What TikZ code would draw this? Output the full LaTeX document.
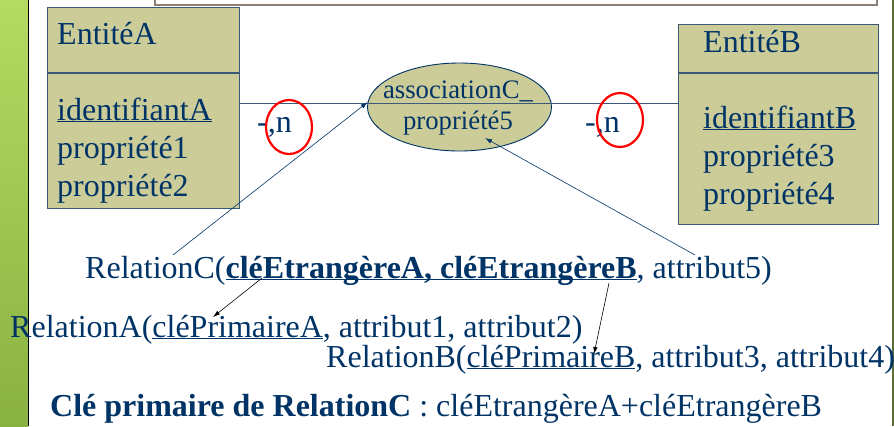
\documentclass[tikz,border=0pt]{standalone}
\usepackage{fontspec}
\setmainfont{Liberation Serif}
\usetikzlibrary{calc}
\usetikzlibrary{positioning}
\usetikzlibrary{shapes,arrows.meta}

\definecolor{inkBlue}{RGB}{0,51,102}
\definecolor{khaki}{RGB}{204,204,153}
\definecolor{frameBlue}{RGB}{59,89,120}
\definecolor{barTop}{RGB}{180,218,98}
\definecolor{barBottom}{RGB}{138,178,66}
\definecolor{frameGrey}{RGB}{140,128,118}
\definecolor{edgeOlive}{RGB}{92,110,60}

\newcommand{\keyUL}[1]{\underline{\smash{#1}}}

\begin{document}
\begin{tikzpicture}[x=1pt, y=-1pt, >={Latex[length=7pt,width=4.5pt]}]
            % Set styles
            \tikzset{
                entityNode/.style={
                        draw=frameBlue,
                        fill=khaki,
                        line width=1.2pt,
                        rectangle,
                        inner sep=0pt
                    }
            }
            \tikzset{
                assocNode/.style={
                        draw=inkBlue,
                        fill=khaki,
                        ellipse,
                        line width=0.9pt,
                        minimum width=184pt,
                        minimum height=88pt,
                        inner sep=0pt
                    }
            }
            \tikzset{
                textNode/.style={
                        text=inkBlue,
                        inner sep=0pt,
                        anchor=base west,
                        font=\fontsize{32}{38}\selectfont
                    }
            }
            \tikzset{
                cardRing/.style={
                        draw=red,
                        line width=2.2pt,
                        ellipse,
                        minimum width=46pt,
                        minimum height=54pt,
                        inner sep=0pt
                    }
            }
            \tikzset{
                link/.style={
                        draw=frameBlue,
                        line width=1pt
                    }
            }
            \tikzset{
                fkArrow/.style={
                        ->,
                        draw=inkBlue,
                        line width=0.6pt
                    }
            }
            \tikzset{
                keyArrow/.style={
                        ->,
                        draw=black,
                        line width=0.6pt
                    }
            }
            % Slide frame
            \useasboundingbox[fill=white] (0,0) rectangle (894,426);
            \shade[top color=barTop, bottom color=barBottom] (0,0) rectangle (28,426);
            \draw[black, line width=1.5pt] (28.5,0) -- (28.5,426);
            \draw[edgeOlive, line width=2pt] (893,0) -- (893,426);
            \draw[frameGrey, line width=1.5pt] (155,-10) rectangle (877,5);
            % Placing entities
            \node[entityNode, anchor=north west, minimum width=192pt, minimum height=65pt](titleA) at (47,7){};
            \node[entityNode, anchor=north, minimum width=192pt, minimum height=135pt](bodyA) at (titleA.south){};
            \node[entityNode, anchor=north west, minimum width=200pt, minimum height=48pt](titleB) at (678,24){};
            \node[entityNode, anchor=north, minimum width=200pt, minimum height=151pt](bodyB) at (titleB.south){};
            \node[textNode](nameA) at (57,44){EntitéA};
            \node[textNode](idA) at (57,120){\keyUL{identifiantA}};
            \node[textNode](propA1) at (57,158){propriété1};
            \node[textNode](propA2) at (57,196){propriété2};
            \node[textNode](nameB) at (703,52){EntitéB};
            \node[textNode](idB) at (703,128){\keyUL{identifiantB}};
            \node[textNode](propB3) at (703,166){propriété3};
            \node[textNode](propB4) at (703,204){propriété4};
            % Association
            \node[assocNode](assoc) at (459.5,107){};
            \node[text=inkBlue, inner sep=0pt, align=center, font=\fontsize{26.7}{31}\selectfont](assocLbl) at (458,108){associationC\_\\propriété5};
            \coordinate (mid) at (459.5,103);
            \draw[link](bodyA.east |- mid) -- (bodyB.west |- mid);
            % Cardinalities
            \node[textNode](cardA) at (257,132){-,n};
            \node[textNode](cardB) at (585,132){-,n};
            \node[cardRing](ringA) at (289,127){};
            \node[cardRing](ringB) at (620,120){};
            % Relations
            \node[textNode](relC) at (85,278){RelationC(\textbf{\keyUL{cléEtrangèreA, cléEtrangèreB}}, attribut5)};
            \node[textNode](relA) at (10,337){RelationA(\keyUL{cléPrimaireA}, attribut1, attribut2)};
            \node[textNode](relB) at (326,367){RelationB(\keyUL{cléPrimaireB}, attribut3, attribut4)};
            \node[textNode](pkC) at (50,416){\textbf{Clé primaire de RelationC} : cléEtrangèreA+cléEtrangèreB};
            % Draw arrows
            \coordinate (fkAStart) at (173,255);
            \coordinate (fkBStart) at (695,255);
            \coordinate (propTip) at ($(assoc.center)+(25.5,31)$);
            \draw[fkArrow](fkAStart) -- (assoc.177);
            \draw[fkArrow](fkBStart) -- (propTip);
            \coordinate (keyAStart) at (262,278);
            \coordinate (keyATip) at (213,317);
            \coordinate (keyBStart) at (609,283);
            \coordinate (keyBTip) at (594,354);
            \draw[keyArrow](keyAStart) -- (keyATip);
            \draw[keyArrow](keyBStart) -- (keyBTip);
        \end{tikzpicture}
\end{document}
